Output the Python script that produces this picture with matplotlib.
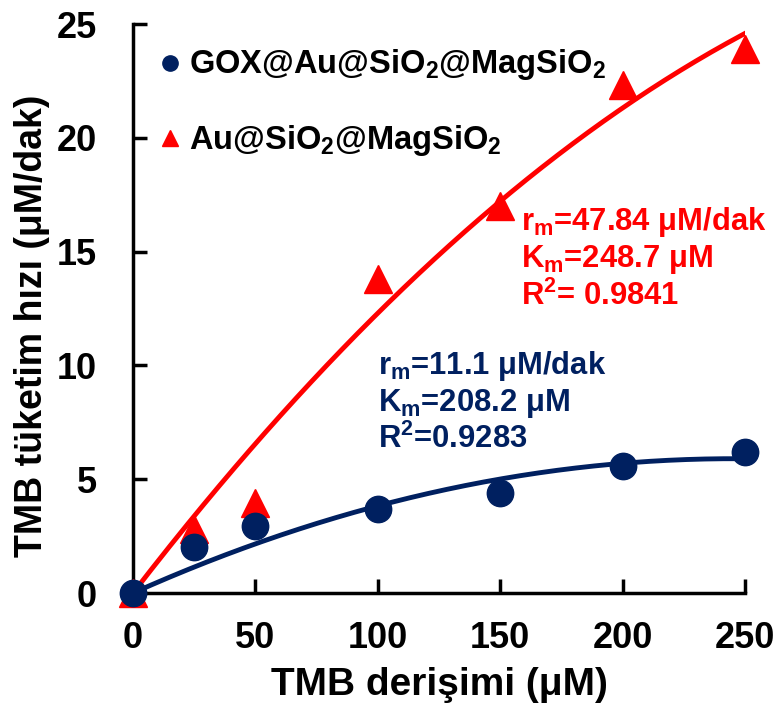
import numpy as np
import matplotlib
matplotlib.use('Agg')
import matplotlib.pyplot as plt

plt.rcParams['font.family'] = ['Liberation Sans', 'DejaVu Sans']
plt.rcParams['font.weight'] = 'bold'
plt.rcParams['mathtext.default'] = 'regular'

# data
tmb = [0, 25, 50, 100, 150, 200, 250]
gox = [0, 2.02, 2.95, 3.67, 4.38, 5.59, 6.18]
au = [0, 2.83, 3.94, 13.8, 17.0, 22.3, 23.9]
x_ticks = [0, 50, 100, 150, 200, 250]
y_ticks = [0, 5, 10, 15, 20, 25]

blue = '#002060'
red = '#ff0000'


def trend(x, y):
    # 2nd order polynomial trendline with intercept set to 0 (excel style)
    x = np.asarray(x, float)
    A = np.column_stack([x ** 2, x])
    c, *_ = np.linalg.lstsq(A, np.asarray(y, float), rcond=None)
    return np.array([c[0], c[1], 0.0])


fig = plt.figure(figsize=(7.76, 7.13), dpi=100)
ax = fig.add_axes([0.1714, 0.1683, 0.7886, 0.798])

xx = np.linspace(0, 250, 200)
ax.plot(xx, np.polyval(trend(tmb, au), xx), color=red, lw=3.5, zorder=2)
ax.plot(xx, np.polyval(trend(tmb, gox), xx), color=blue, lw=3.5, zorder=2)

ax.plot(tmb, au, '^', color=red, ms=20, clip_on=False, zorder=3)
ax.plot(tmb, gox, 'o', color=blue, ms=19, clip_on=False, zorder=4)

ax.set_xlim(0, 250)
ax.set_ylim(0, 25)
ax.set_xticks(x_ticks)
ax.set_yticks(y_ticks)
ax.tick_params(direction='in', length=10, width=2.5, labelsize=26)
ax.tick_params(axis='x', pad=20)
ax.tick_params(axis='y', pad=26)
for s in ['top', 'right']:
    ax.spines[s].set_visible(False)
for s in ['left', 'bottom']:
    ax.spines[s].set_linewidth(2.5)

ax.set_xlabel('TMB derişimi (μM)', fontsize=28, fontweight='bold', labelpad=8)
ax.set_ylabel('TMB tüketim hızı (μM/dak)', fontsize=27, fontweight='bold', labelpad=8)
ax.yaxis.set_label_coords(-0.135, 0.47)

# legend
ax.plot([15], [23.3], 'o', color=blue, ms=11)
ax.plot([15], [20.0], '^', color=red, ms=12)
ax.text(23, 23.2, 'GOX@Au@SiO$_2$@MagSiO$_2$', fontsize=23.5, va='center', ha='left')
ax.text(23, 19.9, 'Au@SiO$_2$@MagSiO$_2$', fontsize=23.5, va='center', ha='left')

ax.text(158.5, 14.7, 'r$_m$=47.84 μM/dak\nK$_m$=248.7 μM\nR$^2$= 0.9841', color=red,
        fontsize=22.3, va='center', ha='left', linespacing=1.17)
ax.text(100, 8.4, 'r$_m$=11.1 μM/dak\nK$_m$=208.2 μM\nR$^2$=0.9283', color=blue,
        fontsize=22.3, va='center', ha='left', linespacing=1.17)

fig.savefig('out.png', dpi=100)
